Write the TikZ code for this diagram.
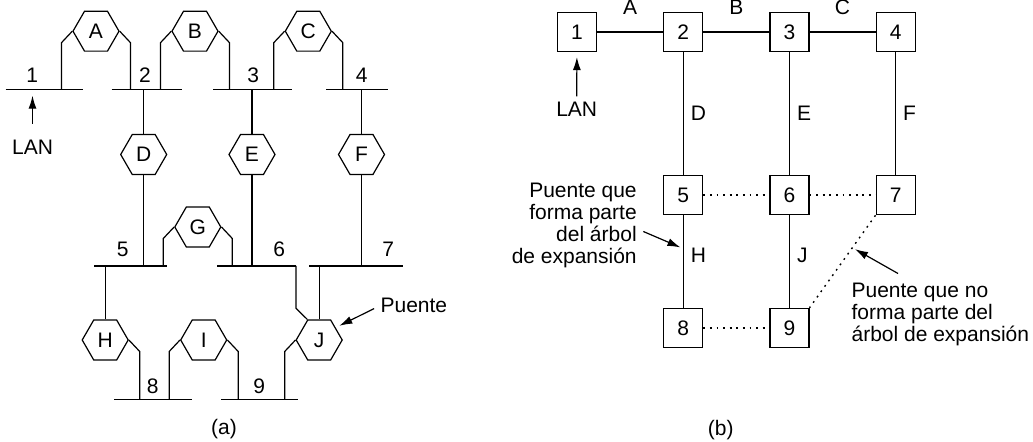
\documentclass[tikz,border=0pt]{standalone}
\usepackage{fontspec}
\setmainfont{Liberation Sans}
\usetikzlibrary{shapes.geometric, positioning, arrows.meta}

\begin{document}
\begin{tikzpicture}[
  x=0.5pt, y=-0.5pt, line width=0.6pt,
  node distance=61.5pt and 33pt,
  every node/.style={font=\fontsize{10.5}{11}\selectfont, inner sep=0pt},
  bridge/.style={draw, regular polygon, regular polygon sides=6, minimum size=23pt},
  box/.style={draw, rectangle, minimum size=19.5pt},
  unused/.style={line width=0.7pt, dash pattern=on 0.9pt off 2.4pt},
  arrow/.style={-{Latex[length=6.5pt, width=4pt]}}
]
\useasboundingbox (0,0) rectangle (1033,442);

% (a) LAN segments
\draw (5.7,89.3) -- (82.7,89.3);
\draw (111.7,89.3) -- (181.7,89.3);
\draw (213.3,89.3) -- (292.3,89.3);
\draw (326,89.3) -- (388.3,89.3);
\draw (94,266) -- (166.7,266);
\draw (217.3,266) -- (296,266);
\draw (309.3,266) -- (402.7,266);
\draw (114.3,399.3) -- (191.7,399.3);
\draw (221,399.3) -- (298.3,399.3);

% segment numbers
\node (n1) at (32.3,75) {1};
\node (n2) at (145,75) {2};
\node (n3) at (253.3,75) {3};
\node (n4) at (361.7,75) {4};
\node (n5) at (122.7,249.3) {5};
\node (n6) at (279.3,249.3) {6};
\node (n7) at (388.3,249.3) {7};
\node (n8) at (152.7,386.7) {8};
\node (n9) at (259.3,386.7) {9};

% Bridges
\node[bridge] (A) at (96,31.2) {A};
\node[bridge] (B) at (195,31.2) {B};
\node[bridge] (C) at (308.3,31.2) {C};
\node[bridge] (D) at (143.7,154.5) {D};
\node[bridge] (E) at (252,154.5) {E};
\node[bridge] (F) at (361.5,154.5) {F};
\node[bridge] (G) at (197.8,227) {G};
\node[bridge] (H) at (105.2,340) {H};
\node[bridge] (I) at (203.7,340) {I};
\node[bridge] (J) at (319.2,340) {J};

% Bridge connections
\draw (61.5,89.3) -- (61.5,42.7) -- (A.west);
\draw (A.east) -- (130.5,42.7) -- (130.5,89.3);
\draw (160.5,89.3) -- (160.5,42.7) -- (B.west);
\draw (B.east) -- (229.5,42.7) -- (229.5,89.3);
\draw (273.8,89.3) -- (273.8,42.7) -- (C.west);
\draw (C.east) -- (342.8,42.7) -- (342.8,89.3);
\draw (D.north) -- (D.north |- 0,89.3);
\draw (D.south) -- (D.south |- 0,266);
\draw (E.north) -- (E.north |- 0,89.3);
\draw (E.south) -- (E.south |- 0,266);
\draw (F.north) -- (F.north |- 0,89.3);
\draw (F.south) -- (F.south |- 0,266);
\draw (163.3,266) -- (163.3,238.5) -- (G.west);
\draw (G.east) -- (232.3,238.5) -- (232.3,266);
\draw (H.north) -- (H.north |- 0,266);
\draw (H.east) -- (139.7,351.5) -- (139.7,399.3);
\draw (169.2,399.3) -- (169.2,351.5) -- (I.west);
\draw (I.east) -- (238.2,351.5) -- (238.2,399.3);
\draw (296,266) -- (296,308.3) -- (J.120);
\draw (J.north) -- (J.north |- 0,266);
\draw (284.7,399.3) -- (284.7,351.5) -- (J.west);

% LAN and bridge callouts
\coordinate (tap1) at (32.5,89.3);
\node (lana) at (32.5,147.5) {LAN};
\draw[arrow, shorten <=8pt, shorten >=3.2pt] (lana) -- (tap1);
\node[anchor=west] (puente) at (380,305.7) {Puente};
\draw[arrow, shorten <=3.3pt, shorten >=2pt] (puente.west) -- (J.37);

\node (capa) at (224,429.3) {(a)};

% (b) spanning tree
\node[box] (b1) at (577,32) {1};
\node[box, right=of b1] (b2) {2};
\node[box, right=of b2] (b3) {3};
\node[box, right=of b3] (b4) {4};
\node[box, below=of b2] (b5) {5};
\node[box, right=of b5] (b6) {6};
\node[box, right=of b6] (b7) {7};
\node[box, below=46.25pt of b5] (b8) {8};
\node[box, right=of b8] (b9) {9};

\draw (b1) -- node[above=8.2pt] {A} (b2);
\draw (b2) -- node[above=8.2pt] {B} (b3);
\draw (b3) -- node[above=8.2pt] {C} (b4);
\draw (b2) -- node[right=3.5pt] {D} (b5);
\draw (b3) -- node[right=3.5pt] {E} (b6);
\draw (b4) -- node[right=3.5pt] {F} (b7);
\draw (b5) -- node[pos=0.43, right=3.5pt] {H} coordinate[pos=0.36] (inh) (b8);
\draw (b6) -- node[pos=0.43, right=3.5pt] {J} (b9);
\draw[unused] (b5) -- (b6);
\draw[unused] (b6) -- (b7);
\draw[unused] (b8) -- (b9);
\draw[unused] (b7.south west) -- coordinate[pos=0.35] (outj) (b9.north east);

\node (lanb) at (576.7,109.3) {LAN};
\draw[arrow, shorten <=2.5pt, shorten >=2.5pt] (lanb) -- (b1);

\node[align=right, anchor=north east] (intree) at (637.3,182.5)
  {Puente que\\forma parte\\del árbol\\de expansión};
\draw[arrow, shorten >=1.5pt] ([xshift=3pt, yshift=-3pt]intree.east) -- (inh);
\node[align=left, anchor=north west] (notree) at (851,282.5)
  {Puente que no\\forma parte del\\árbol de expansión};
\draw[arrow, shorten >=1.5pt] ([shift={(23.5pt,4.5pt)}]notree.north west) -- (outj);

\node (capb) at (720.7,430) {(b)};
\end{tikzpicture}
\end{document}
